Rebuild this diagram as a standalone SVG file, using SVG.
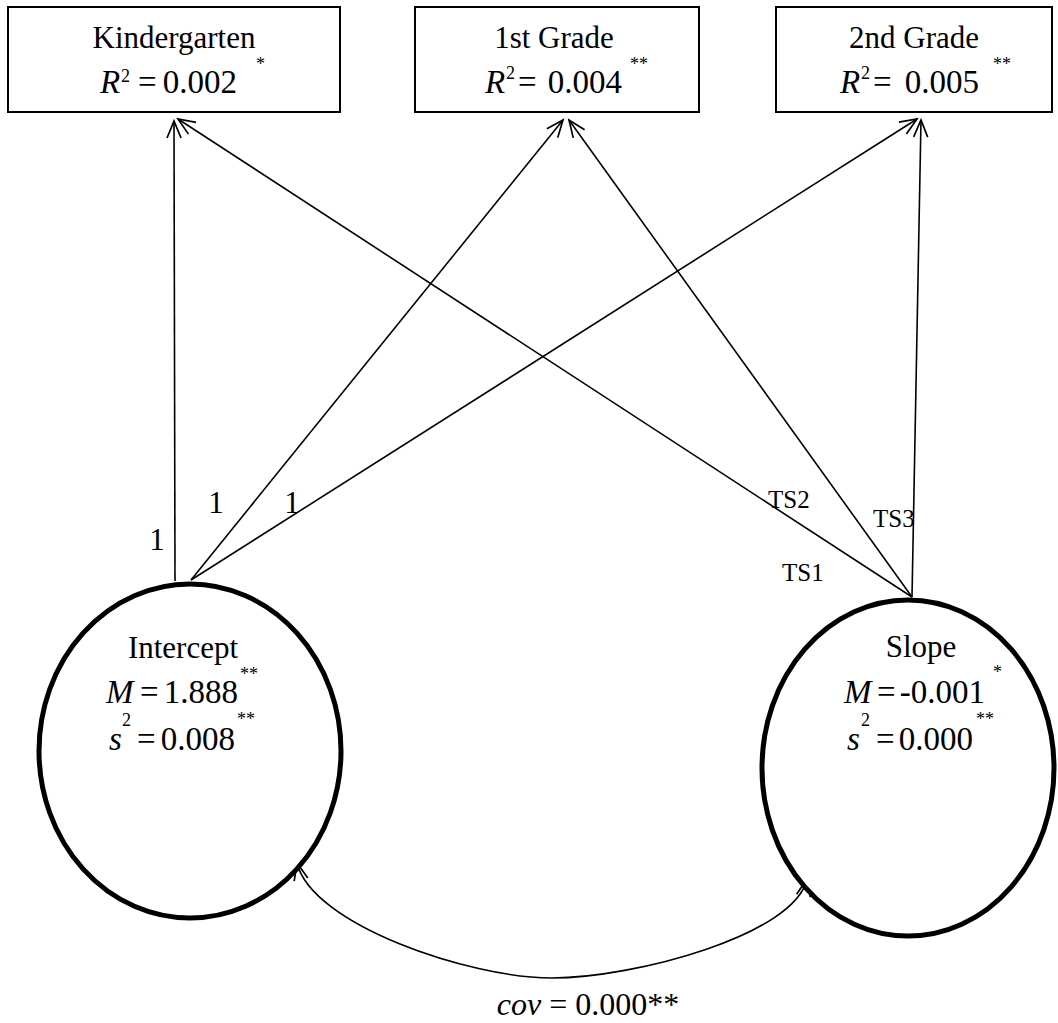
<svg xmlns="http://www.w3.org/2000/svg" width="1058" height="1023" viewBox="0 0 1058 1023">
<defs>
<marker id="arr" markerUnits="userSpaceOnUse" markerWidth="24" markerHeight="20" viewBox="-20 -10 24 20" refX="0" refY="0" orient="auto-start-reverse">
<path d="M -17 -7 L 0 0 L -17 7" fill="none" stroke="#000" stroke-width="1.7"/>
</marker>
</defs>
<style>
text{font-family:"Liberation Serif","Times New Roman",serif;fill:#000}
.lab{font-size:31px}
.m{font-size:33px}
.i{font-style:italic}
.sup{font-size:18px}
.ast{font-size:18px}
.ts{font-size:25px}
.box{fill:#fff;stroke:#000;stroke-width:2}
.lat{fill:#fff;stroke:#000;stroke-width:5}
.c{fill:none;stroke:#000;stroke-width:1.6}
</style>
<rect width="1058" height="1023" fill="#fff"/>
<g id="connectors">
<line class="c" x1="175" y1="581" x2="174" y2="121" marker-end="url(#arr)"/>
<line class="c" x1="191" y1="580" x2="563" y2="120" marker-end="url(#arr)"/>
<line class="c" x1="191" y1="580" x2="917" y2="119" marker-end="url(#arr)"/>
<line class="c" x1="912" y1="597" x2="178" y2="119" marker-end="url(#arr)"/>
<line class="c" x1="912" y1="597" x2="569" y2="120" marker-end="url(#arr)"/>
<line class="c" x1="912" y1="597" x2="921" y2="120" marker-end="url(#arr)"/>
<path class="c" d="M 297 863 C 312 925 470 978 552 978 C 634 978 795 935 807 879" marker-start="url(#arr)" marker-end="url(#arr)"/>
<text class="lab" x="157" y="550" text-anchor="middle">1</text>
<text class="lab" x="216" y="513" text-anchor="middle">1</text>
<text class="lab" x="292" y="513" text-anchor="middle">1</text>
<text class="ts" x="768" y="508">TS2</text>
<text class="ts" x="873" y="527">TS3</text>
<text class="ts" x="782" y="581">TS1</text>
<text x="588" y="1015" text-anchor="middle" style="font-size:32px"><tspan class="i">cov</tspan> = 0.000**</text>
</g>
<g id="kindergarten">
<rect class="box" x="8" y="7" width="332" height="105"/>
<text class="lab" x="174" y="48" text-anchor="middle">Kindergarten</text>
<text class="m i" x="100" y="93">R</text>
<text class="sup" x="121" y="82">2</text>
<text class="m" x="138" y="93">=</text>
<text class="m" x="237" y="93" text-anchor="end">0.002</text>
<text class="ast" x="256" y="70">*</text>
</g>
<g id="grade1">
<rect class="box" x="415" y="7" width="284" height="105"/>
<text class="lab" x="554" y="48" text-anchor="middle">1st Grade</text>
<text class="m i" x="485" y="93">R</text>
<text class="sup" x="506" y="79">2</text>
<text class="m" x="518" y="93">=</text>
<text class="m" x="622" y="93" text-anchor="end">0.004</text>
<text class="ast" x="630" y="70">**</text>
</g>
<g id="grade2">
<rect class="box" x="776" y="7" width="276" height="105"/>
<text class="lab" x="914" y="48" text-anchor="middle">2nd Grade</text>
<text class="m i" x="840" y="93">R</text>
<text class="sup" x="861" y="79">2</text>
<text class="m" x="873" y="93">=</text>
<text class="m" x="979" y="93" text-anchor="end">0.005</text>
<text class="ast" x="993" y="70">**</text>
</g>
<g id="intercept">
<ellipse class="lat" cx="190" cy="751" rx="151" ry="167"/>
<text class="lab" x="183" y="658" text-anchor="middle">Intercept</text>
<text class="m i" x="106" y="703">M</text>
<text class="m" x="140" y="703">=</text>
<text class="m" x="238" y="703" text-anchor="end">1.888</text>
<text class="ast" x="240" y="680">**</text>
<text class="m i" x="109" y="750">s</text>
<text class="sup" x="122" y="726">2</text>
<text class="m" x="137" y="750">=</text>
<text class="m" x="235" y="750" text-anchor="end">0.008</text>
<text class="ast" x="237" y="725">**</text>
</g>
<g id="slope">
<ellipse class="lat" cx="908" cy="768" rx="146" ry="168"/>
<text class="lab" x="921" y="657" text-anchor="middle">Slope</text>
<text class="m i" x="844" y="703">M</text>
<text class="m" x="877" y="703">=</text>
<text class="m" x="985" y="703" text-anchor="end">-0.001</text>
<text class="ast" x="993" y="678">*</text>
<text class="m i" x="847" y="750">s</text>
<text class="sup" x="861" y="726">2</text>
<text class="m" x="876" y="750">=</text>
<text class="m" x="973" y="750" text-anchor="end">0.000</text>
<text class="ast" x="976" y="725">**</text>
</g>
</svg>
